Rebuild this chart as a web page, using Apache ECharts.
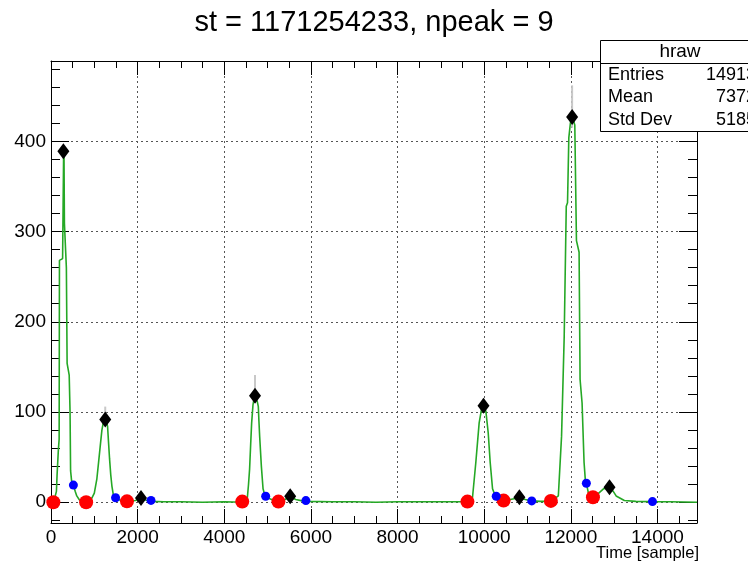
<!DOCTYPE html>
<html><head><meta charset="utf-8">
<script src="https://cdn.jsdelivr.net/npm/echarts@6/dist/echarts.min.js"></script>
<style>html,body{margin:0;padding:0;background:#fff}#c{width:748px;height:569px}</style>
</head><body><div id="c"></div>
<script>
const titleText = 'st = 1171254233, npeak = 9';
const xAxisTitle = 'Time [sample]';
const xMin = 0, xMax = 14913, yMin = -23, yMax = 489;
const xTickValues = [0, 2000, 4000, 6000, 8000, 10000, 12000, 14000];
const xMinorValues = [500, 1000, 1500, 2500, 3000, 3500, 4500, 5000, 5500, 6500, 7000, 7500, 8500, 9000, 9500, 10500, 11000, 11500, 12500, 13000, 13500, 14500];
const yTickValues = [0, 100, 200, 300, 400];
const yMinorValues = [-20, 20, 40, 60, 80, 120, 140, 160, 180, 220, 240, 260, 280, 320, 340, 360, 380, 420, 440, 460, 480];

// smoothed waveform (green)
const waveTime = [0, 60, 100, 125, 140, 170, 188, 195, 268, 280, 292, 300, 310, 345, 355, 372, 420, 440, 452, 475, 517, 560, 595, 650, 711, 811,
  900, 943, 1000, 1059, 1100, 1136, 1175, 1210, 1245, 1275, 1306, 1330, 1352, 1380, 1406, 1440, 1491, 1550, 1650, 1754, 1950, 2077, 2180, 2309, 2600, 3000, 3500, 4000, 4415,
  4500, 4531, 4560, 4585, 4610, 4632, 4663, 4690, 4720, 4760, 4786, 4800, 4817, 4856, 4895, 4930, 4956, 5050, 5150, 5250, 5400, 5521, 5650, 5800, 5884, 6500, 7000, 7500, 8000, 8500, 9000, 9613,
  9730, 9807, 9884, 9938, 9985, 10039, 10093, 10139, 10193, 10240, 10278, 10350, 10448, 10600, 10812, 10950, 11098, 11300, 11540,
  11712, 11786, 11847, 11895, 11924, 11954, 11990, 12020, 12060, 12092, 12130, 12191, 12214, 12260, 12306, 12336, 12359, 12420, 12511, 12600, 12664, 12760, 12893, 12980, 13046, 13236, 13500, 13885, 14300, 14913];
const waveAmp = [0, 0, 1, 12, 30, 58, 70, 268, 270, 330, 389, 386, 309, 307, 260, 154, 141, 100, 35, 24, 19, 12, 7, 3, 1, 0,
  0.5, 2, 10, 26, 45, 62, 80, 89, 91, 91, 84, 65, 48, 30, 18, 8, 5, 3, 1.5, 1, 2, 4.5, 2.5, 1, 0.5, 0.5, 0, 0.5, 0,
  1, 4, 20, 37, 65, 88, 108, 116, 117, 112, 106, 90, 73, 40, 15, 9, 7, 4, 2, 1, 3, 6, 3, 1.5, 1, 0.5, 0.5, 0, 0.5, 0.5, 0.5, 0.5,
  5, 44, 88, 103, 106, 101, 77, 44, 15, 9, 6.6, 4, 2, 3, 5, 3, 1.5, 1, 1,
  7, 73, 183, 328, 332, 404, 420, 427, 423, 418, 290, 277, 136, 110, 44, 24, 21, 7, 5.5, 8, 11, 15, 16, 12, 7, 2, 1, 0.7, 0.5, 0];

// pulse start markers (red)
const startTime = [54, 811, 1754, 4415, 5250, 9613, 10448, 11540, 12511];
const startAmp = [0, 0, 1, 0.7, 0.7, 0.7, 1.8, 1.5, 5.5];
// pulse end markers (blue)
const endTime = [517, 1491, 2309, 4956, 5884, 10278, 11098, 12359, 13885];
const endAmp = [19, 5, 2, 6.6, 1.8, 6.6, 1.5, 21, 0.7];
// peak markers (black diamonds)
const peakTime = [286, 1252, 2077, 4709, 5521, 9985, 10812, 12030, 12893];
const peakAmp = [389, 91.6, 4.8, 118, 6.6, 107, 5.5, 427, 16.5];
// raw histogram error bars (grey)
const errTime = [1252, 4709, 9985, 12030];
const errLow = [85, 110, 100, 415];
const errHigh = [106, 141, 115, 462];

const statLabels = ['Entries', 'Mean', 'Std Dev'];
const statValues = ['14913', '7372', '5185'];

const FF = '"Liberation Sans", Arial, Helvetica, sans-serif';
const zip = (a, b) => a.map((v, i) => [v, b[i]]);
const plain = v => String(v);

function xAx(pos, vals, len, line) {
  return {type: 'value', position: pos, min: xMin, max: xMax, interval: 2000,
    axisLine: {show: line, onZero: false, lineStyle: {color: '#000', width: 1}},
    axisTick: {show: true, inside: true, length: len, customValues: vals, lineStyle: {color: '#000', width: 1}},
    axisLabel: {show: false},
    splitLine: {show: false}};
}
function yAx(pos, vals, len, line) {
  return {type: 'value', position: pos, min: yMin, max: yMax,
    axisLine: {show: line, onZero: false, lineStyle: {color: '#000', width: 1}},
    axisTick: {show: true, inside: true, length: len, customValues: vals, lineStyle: {color: '#000', width: 1}},
    axisLabel: {show: false},
    splitLine: {show: false}};
}
const xMain = xAx('bottom', xTickValues, 14, true);
xMain.axisLabel = {show: true, customValues: xTickValues, formatter: plain, fontSize: 19, color: '#000', fontFamily: FF, margin: 5};
xMain.splitLine = {show: true, lineStyle: {type: [2, 3], color: '#555', width: 1}};
const yMain = yAx('left', yTickValues, 18, true);
yMain.axisLabel = {show: true, customValues: yTickValues, formatter: plain, fontSize: 19, color: '#000', fontFamily: FF, margin: 5};
yMain.splitLine = {show: true, lineStyle: {type: [2, 3], color: '#555', width: 1}};

const chart = echarts.init(document.getElementById('c'), null, {renderer: 'canvas'});
chart.setOption({
  animation: false,
  backgroundColor: '#fff',
  title: {text: titleText, left: 'center', top: 3, textStyle: {fontSize: 29, fontWeight: 'normal', color: '#000', fontFamily: FF}},
  grid: {left: 51, right: 51, top: 61, bottom: 46, containLabel: false},
  xAxis: [xMain, xAx('bottom', xMinorValues, 7, false), xAx('top', xTickValues, 14, true), xAx('top', xMinorValues, 7, false)],
  yAxis: [yMain, yAx('left', yMinorValues, 9, false), yAx('right', yTickValues, 18, true), yAx('right', yMinorValues, 9, false)],
  series: [
    {type: 'custom', xAxisIndex: 0, yAxisIndex: 0, data: errTime.map((t, i) => [t, errLow[i], errHigh[i]]),
      renderItem: function (params, api) {
        const p1 = api.coord([api.value(0), api.value(1)]);
        const p2 = api.coord([api.value(0), api.value(2)]);
        return {type: 'line', shape: {x1: p1[0], y1: p1[1], x2: p2[0], y2: p2[1]}, style: {stroke: '#c8c8c8', lineWidth: 2}};
      }, z: 1},
    {type: 'line', xAxisIndex: 0, yAxisIndex: 0, data: zip(waveTime, waveAmp), showSymbol: false, symbol: 'none',
      lineStyle: {color: '#25a825', width: 1.6}, z: 2},
    {type: 'scatter', xAxisIndex: 0, yAxisIndex: 0, data: zip(startTime, startAmp), symbol: 'circle', symbolSize: 14,
      itemStyle: {color: '#ff0000', opacity: 1}, z: 3},
    {type: 'scatter', xAxisIndex: 0, yAxisIndex: 0, data: zip(endTime, endAmp), symbol: 'circle', symbolSize: 9,
      itemStyle: {color: '#0000ff', opacity: 1}, z: 3},
    {type: 'scatter', xAxisIndex: 0, yAxisIndex: 0, data: zip(peakTime, peakAmp), symbol: 'diamond', symbolSize: [12, 16],
      itemStyle: {color: '#000', opacity: 1}, z: 4}
  ],
  graphic: [
    {type: 'rect', shape: {x: 600.5, y: 40.5, width: 170, height: 91}, style: {fill: '#fff', stroke: '#000', lineWidth: 1}, z: 100},
    {type: 'line', shape: {x1: 600.5, y1: 63.5, x2: 770, y2: 63.5}, style: {stroke: '#000', lineWidth: 1}, z: 101},
    {type: 'text', x: 680, y: 52, style: {text: 'hraw', fontSize: 19, fontFamily: FF, fill: '#000', align: 'center', verticalAlign: 'middle'}, z: 101},
    ...statLabels.map((s, i) => ({type: 'text', x: 608, y: 75 + i * 22.5, style: {text: s, fontSize: 18, fontFamily: FF, fill: '#000', align: 'left', verticalAlign: 'middle'}, z: 101})),
    ...statValues.map((s, i) => ({type: 'text', x: 756, y: 75 + i * 22.5, style: {text: s, fontSize: 18, fontFamily: FF, fill: '#000', align: 'right', verticalAlign: 'middle'}, z: 101})),
    {type: 'text', x: 699, y: 553, style: {text: xAxisTitle, fontSize: 16.5, fontFamily: FF, fill: '#000', align: 'right', verticalAlign: 'middle'}, z: 101}
  ]
});
</script></body></html>
